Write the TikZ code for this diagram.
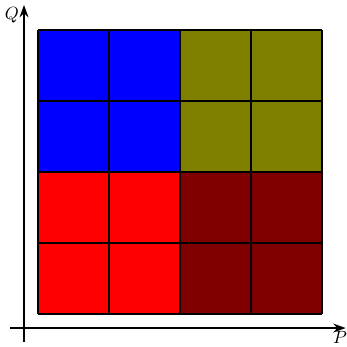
\documentclass[tikz,border=0pt]{standalone}
\usepackage{tikz}
\usetikzlibrary{arrows.meta}
\definecolor{maroon}{RGB}{128,0,0}
\definecolor{oliv}{RGB}{128,128,0}

\begin{document}
\begin{tikzpicture}[scale=1.41]
  \useasboundingbox (-0.338,-0.254) rectangle (4.549,4.62);
  % Coordinates
  \coordinate (Xs) at (-0.2,0);
  \coordinate (Xe) at (4.53,0);
  \coordinate (Ys) at (0,-0.2);
  \coordinate (Ye) at (0,4.55);
  \coordinate (A) at (0.2,0.2);
  \coordinate (B) at (2.2,2.2);
  \coordinate (C) at (4.2,4.2);

  % Blocks
  \fill[red] (A) rectangle (B);
  \fill[blue] (0.2,2.2) rectangle (2.2,4.2);
  \fill[oliv] (B) rectangle (C);
  \fill[maroon] (2.2,0.2) rectangle (4.2,2.2);
  \foreach \i in {0.2,1.2,2.2,3.2,4.2} {
    \draw[line width=1pt] (\i,0.2) -- (\i,4.2);
    \draw[line width=1pt] (0.2,\i) -- (4.2,\i);
  }

  % Axes
  \draw[line width=1pt,-{Stealth[length=7pt,width=5pt]}] (Xs) -- (Xe);
  \draw[line width=1pt,-{Stealth[length=7pt,width=5pt]}] (Ys) -- (Ye);
  \node[inner sep=1pt] (p) at (4.45,-0.13) {$P$};
  \node[inner sep=1pt] (q) at (-0.17,4.41) {$Q$};
\end{tikzpicture}
\end{document}
